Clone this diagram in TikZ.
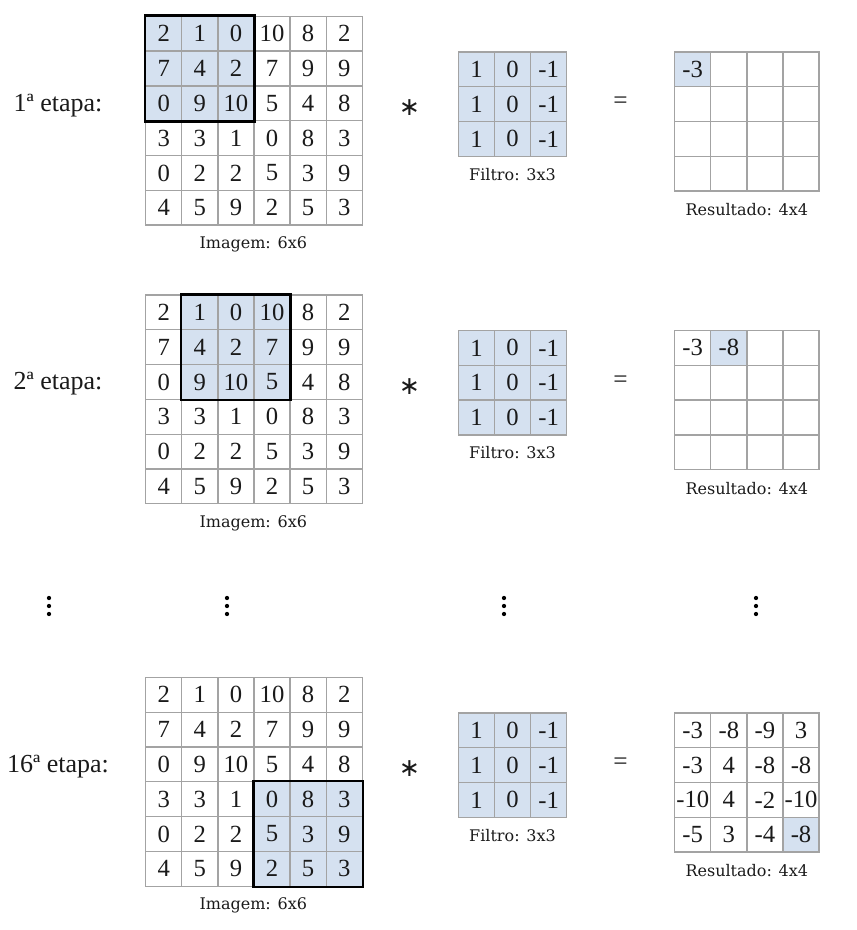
\documentclass[tikz,border=0pt]{standalone}
\usepackage{fontspec}
\setmainfont{Liberation Serif}
\newfontfamily\capfont{DejaVu Serif}
\newfontfamily\symfont{DejaVu Sans}
\usetikzlibrary{backgrounds}
\definecolor{cellblue}{HTML}{D5E1F0}
\definecolor{gridgray}{HTML}{A3A3A3}
\definecolor{inkgray}{HTML}{1A1A1A}
\tikzset{
  cell/.style={draw=gridgray, line width=1pt, minimum width=27.075pt, minimum height=26.1pt,
    inner sep=0pt, anchor=north west, text=inkgray, font=\fontsize{18.5}{18.5}\selectfont},
  fcell/.style={cell, fill=cellblue},
  stagelab/.style={font=\fontsize{19.5}{19.5}\selectfont, inner sep=0pt, text=inkgray},
  capt/.style={font=\capfont\fontsize{12}{12}\selectfont, inner sep=0pt, text=inkgray},
  opsym/.style={inner sep=0pt, text=inkgray},
  winbox/.style={draw=black, line width=2pt},
  vdot/.style={circle, fill=black, minimum size=3.2pt, inner sep=0pt}
}
% #1 name, #2 top, #3 label, #4 highlight row, #5 highlight col, #6 result row, #7 result col, #8 result rows
\newcommand{\convstage}[8]{%
  \node[stagelab] (#1-lab) at (58,#2+89.5) {#3};
  \foreach \row [count=\r from 0] in {{2,1,0,10,8,2},{7,4,2,7,9,9},{0,9,10,5,4,8},{3,3,1,0,8,3},{0,2,2,5,3,9},{4,5,9,2,5,3}}{
    \foreach \v [count=\c from 0] in \row {
      \node[cell] (#1-i-\r-\c) at (145+36.1*\c,#2+34.8*\r) {\v};
    }
  }
  \pgfmathtruncatemacro{\hrb}{#4+2}
  \pgfmathtruncatemacro{\hcb}{#5+2}
  \begin{scope}[on background layer]
    \fill[cellblue] (#1-i-#4-#5.north west) rectangle (#1-i-\hrb-\hcb.south east);
  \end{scope}
  \draw[winbox] (#1-i-#4-#5.north west) rectangle (#1-i-\hrb-\hcb.south east);
  \node[capt] (#1-icap) at (253.3,#2+229) {Imagem: 6x6};
  \node[opsym] (#1-ast) at (409.5,#2+92) {\symfont\fontsize{19}{19}\selectfont ∗};
  \foreach \row [count=\r from 0] in {{1,0,-1},{1,0,-1},{1,0,-1}}{
    \foreach \v [count=\c from 0] in \row {
      \node[fcell] (#1-f-\r-\c) at (457.7+36.1*\c,#2+35.5+34.8*\r) {\v};
    }
  }
  \node[capt] (#1-fcap) at (512.5,#2+158.7) {Filtro: 3x3};
  \node[opsym] (#1-eq) at (620.5,#2+87.4) {\fontsize{19}{19}\selectfont=};
  \foreach \row [count=\r from 0] in {#8}{
    \foreach \v [count=\c from 0] in \row {
      \node[cell] (#1-o-\r-\c) at (674+36.1*\c,#2+35.5+34.8*\r) {\v};
    }
  }
  \begin{scope}[on background layer]
    \fill[cellblue] (#1-o-#6-#7.north west) rectangle (#1-o-#6-#7.south east);
  \end{scope}
  \node[capt] (#1-ocap) at (746.8,#2+194.3) {Resultado: 4x4};
}
\begin{document}
\begin{tikzpicture}[x=0.75pt,y=-0.75pt]
  \useasboundingbox (0,0) rectangle (856,930);
  \convstage{s1}{15.7}{1ª etapa:}{0}{0}{0}{0}{{-3,{},{},{}},{{},{},{},{}},{{},{},{},{}},{{},{},{},{}}}
  \convstage{s2}{294.3}{2ª etapa:}{0}{1}{0}{1}{{-3,-8,{},{}},{{},{},{},{}},{{},{},{},{}},{{},{},{},{}}}
  \convstage{s16}{676.7}{16ª etapa:}{3}{3}{3}{3}{{-3,-8,-9,3},{-3,4,-8,-8},{-10,4,-2,-10},{-5,3,-4,-8}}
  \foreach \x [count=\k] in {49,227,504,756}{
    \node[vdot] (d\k a) at (\x,598) {};
    \node[vdot] (d\k b) at (\x,606) {};
    \node[vdot] (d\k c) at (\x,614) {};
  }
\end{tikzpicture}
\end{document}
